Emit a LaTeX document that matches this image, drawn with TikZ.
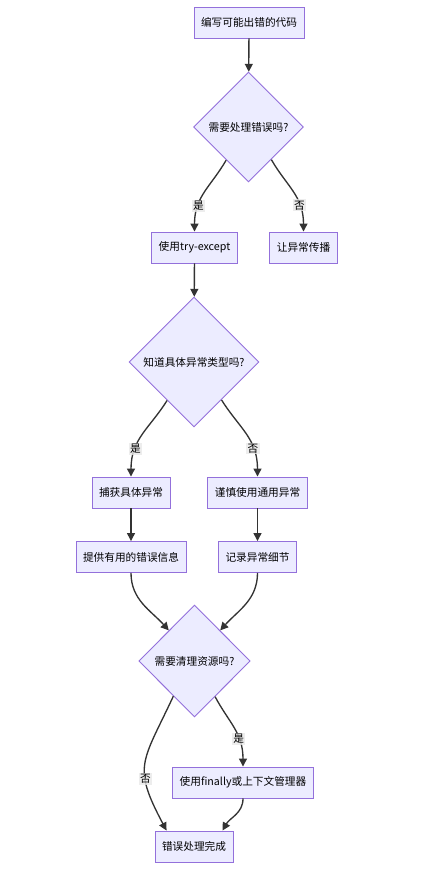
\documentclass[tikz,border=0pt]{standalone}
\usepackage{fontspec}
\newfontfamily\cjk{Noto Sans CJK SC}
\usetikzlibrary{shapes.geometric,arrows.meta}

\definecolor{boxFill}{HTML}{ECECFF}
\definecolor{boxLine}{HTML}{9370DB}
\definecolor{edgeLine}{HTML}{333333}
\definecolor{labelFill}{HTML}{E8E8E8}

\tikzset{
	box/.style={draw=boxLine, fill=boxFill, line width=0.7pt, inner xsep=5.25pt,
		minimum height=23.25pt, font=\cjk\fontsize{8}{10}\selectfont},
	decision/.style={diamond, draw=boxLine, fill=boxFill, line width=0.7pt, inner sep=0pt,
		aspect=1, font=\cjk\fontsize{8}{10}\selectfont},
	flow/.style={draw=edgeLine, line width=1pt, -{Triangle[length=6pt,width=6pt]}},
	answer/.style={fill=labelFill, fill opacity=0.8, text opacity=1, inner sep=1pt,
		font=\cjk\fontsize{8}{10}\selectfont}
}

\begin{document}
\begin{tikzpicture}[x=0.75pt, y=0.75pt]
	
	\useasboundingbox (0,0) rectangle (422,-871);
	
	% ---- Boxes (x / y in pixels from the top) ----
	\foreach \x/\y/\name/\text in {
		249/22.5/code/编写可能出错的代码,
		194.5/247.5/try/使用try-except,
		303.5/247.5/spread/让异常传播,
		131/492.5/catch/捕获具体异常,
		257.5/492.5/careful/谨慎使用通用异常,
		131/557/inform/提供有用的错误信息,
		257.5/557/log/记录异常细节,
		243/782.5/finally/使用finally或上下文管理器,
		194/846.5/done/错误处理完成
	}
	{
		\node[box] (\name) at (\x,-\y) {\text};
	}
	
	% ---- Decisions ----
	\node[decision, minimum width=82.5pt, minimum height=82.5pt] (handle) at (248.5,-127) {需要处理错误吗?};
	\node[decision, minimum width=97.5pt, minimum height=97.5pt] (known) at (194,-362) {知道具体异常类型吗?};
	\node[decision, minimum width=83.5pt, minimum height=84pt] (clean) at (194.5,-661) {需要清理资源吗?};
	
	% ---- Straight edges ----
	\draw[flow] (code) -- (handle);
	\draw[flow] (try) -- (known);
	\draw[flow] (catch) -- (inform);
	\draw[flow] (careful) -- (log);
	
	% ---- Curved edges ----
	\draw[flow] (handle.236) to[out=240, in=90, in looseness=1.15] node[answer, pos=0.7] (yes1) {是} (try.north);
	\draw[flow] (handle.305) to[out=300, in=90, in looseness=1.15] node[answer, pos=0.7] (no1) {否} (spread.north);
	\draw[flow] (known.235) to[out=238, in=90, in looseness=1.15] node[answer, pos=0.7] (yes2) {是} (catch.north);
	\draw[flow] (known.306) to[out=302, in=90, in looseness=1.15] node[answer, pos=0.7] (no2) {否} (careful.north);
	\draw[flow] (inform.south) to[out=270, in=132] (clean.130);
	\draw[flow] (log.south) to[out=270, in=48] (clean.50);
	\draw[flow] (clean.300) to[out=298, in=90, in looseness=1.15] node[answer, pos=0.66] (yes3) {是} (finally.north);
	\draw[flow] (clean.239) to[out=245, in=118, looseness=1.4] node[answer, pos=0.64] (no3) {否} ([xshift=9pt]done.north west);
	\draw[flow] (finally.south) to[out=270, in=60] ([xshift=-8.25pt]done.north east);
	
\end{tikzpicture}
\end{document}
